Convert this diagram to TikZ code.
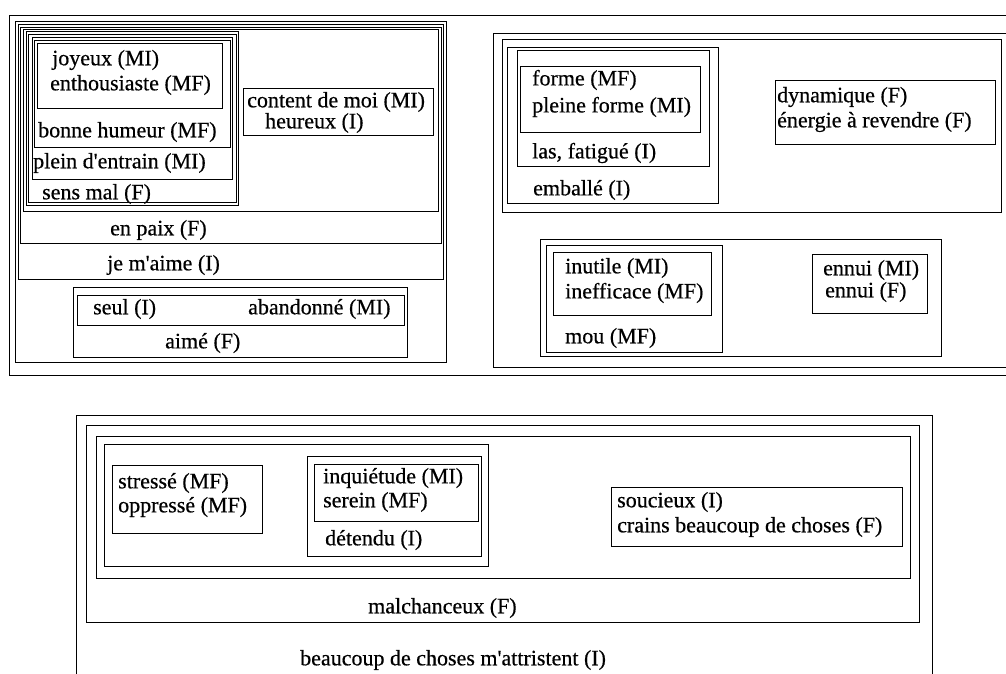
\documentclass[tikz,border=0pt]{standalone}
\usepackage{fontspec}
\setmainfont{Liberation Serif}
\newfontfamily\scanfont{Liberation Serif}[FakeBold=0.5]
\begin{document}
\begin{tikzpicture}[x=1pt,y=-1pt,
  box/.style={draw=black,line width=0.9pt},
  lbl/.style={anchor=west,inner sep=0pt,font=\scanfont\fontsize{22}{24}\selectfont}]
\useasboundingbox (0,0) rectangle (1006,673);
\fill[white] (0,0) rectangle (1006,673);
\clip (0,0) rectangle (1006,673);
% ---------- top frame ----------
\draw[box] (9,15) rectangle (1012,375);
% ---------- left panel ----------
\draw[box] (15,21) rectangle (446,362);
\draw[box] (18,24) rectangle (443,279);
\draw[box] (20,27) rectangle (441,243);
\draw[box] (23,29) rectangle (438,211);
\draw[box] (26,31) rectangle (238,205);
\draw[box] (28,34) rectangle (236,202);
\draw[box] (32,37) rectangle (232,179);
\draw[box] (34,40) rectangle (230,147);
\draw[box] (37,43) rectangle (222,108);
\draw[box] (243,88) rectangle (433,135);
\draw[box] (73,287) rectangle (407,357);
\draw[box] (77,295) rectangle (404,325);
\node[lbl] (joyeux) at (52,60) {joyeux (MI)};
\node[lbl] (enth) at (50,85) {enthousiaste (MF)};
\node[lbl] (bonne) at (38,132) {bonne humeur (MF)};
\node[lbl] (plein) at (33,163) {plein d\textquotesingle entrain (MI)};
\node[lbl] (sens) at (42,194) {sens mal (F)};
\node[lbl] (content) at (247,102) {content de moi (MI)};
\node[lbl] (heureux) at (265,123) {heureux (I)};
\node[lbl] (paix) at (110,230) {en paix (F)};
\node[lbl] (jemaime) at (107,265) {je m\textquotesingle aime (I)};
\node[lbl] (seul) at (93,309) {seul (I)};
\node[lbl] (aband) at (248,309) {abandonné (MI)};
\node[lbl] (aime) at (165,343) {aimé (F)};
% ---------- right panel ----------
\draw[box] (493,33) rectangle (1012,367);
\draw[box] (502,39) rectangle (1001,212);
\draw[box] (507,47) rectangle (718,203);
\draw[box] (517,50) rectangle (709,166);
\draw[box] (520,66) rectangle (700,132);
\draw[box] (775,80) rectangle (995,144);
\draw[box] (540,239) rectangle (941,356);
\draw[box] (546,245) rectangle (722,352);
\draw[box] (553,252) rectangle (711,315);
\draw[box] (812,254) rectangle (927,313);
\node[lbl] (forme) at (532,80) {forme (MF)};
\node[lbl] (pleine) at (532,107) {pleine forme (MI)};
\node[lbl] (las) at (532,153) {las, fatigué (I)};
\node[lbl] (emballe) at (533,190) {emballé (I)};
\node[lbl] (dyn) at (777,97) {dynamique (F)};
\node[lbl] (energie) at (777,122) {énergie à revendre (F)};
\node[lbl] (inutile) at (565,268) {inutile (MI)};
\node[lbl] (ineff) at (565,293) {inefficace (MF)};
\node[lbl] (mou) at (565,338) {mou (MF)};
\node[lbl] (ennuiMI) at (823,270) {ennui (MI)};
\node[lbl] (ennuiF) at (825,292) {ennui (F)};
% ---------- bottom panel ----------
\draw[box] (76,680) -- (76,415) -- (932,415) -- (932,680);
\draw[box] (86,425) rectangle (919,622);
\draw[box] (96,436) rectangle (910,578);
\draw[box] (104,444) rectangle (488,566);
\draw[box] (112,465) rectangle (262,533);
\draw[box] (307,456) rectangle (481,556);
\draw[box] (314,464) rectangle (478,521);
\draw[box] (611,487) rectangle (902,546);
\node[lbl] (stresse) at (118,483) {stressé (MF)};
\node[lbl] (oppresse) at (118,507) {oppressé (MF)};
\node[lbl] (inquiet) at (323,478) {inquiétude (MI)};
\node[lbl] (serein) at (323,502) {serein (MF)};
\node[lbl] (detendu) at (325,540) {détendu (I)};
\node[lbl] (soucieux) at (617,502) {soucieux (I)};
\node[lbl] (crains) at (617,527) {crains beaucoup de choses (F)};
\node[lbl] (malch) at (368,608) {malchanceux (F)};
\node[lbl] (beaucoup) at (300,660) {beaucoup de choses m\textquotesingle attristent (I)};
\end{tikzpicture}
\end{document}
